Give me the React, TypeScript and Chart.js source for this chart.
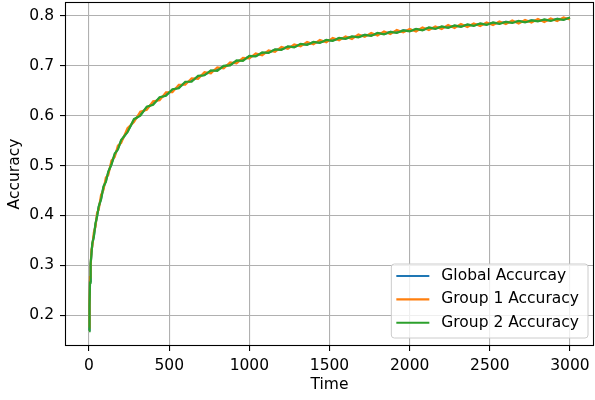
import React, { useEffect, useRef } from "react";
import { Chart, registerables } from "chart.js";

Chart.register(...registerables);

const time = [
  0, 3, 6, 10, 15, 20, 30, 40, 50, 60, 75, 90, 105, 120, 140, 160, 180, 200,
  240, 280, 320, 360, 400, 440, 480, 520, 560, 600, 640, 680, 720, 760, 800,
  840, 880, 920, 960, 1000, 1040, 1080, 1120, 1160, 1200, 1240, 1280, 1320,
  1360, 1400, 1440, 1480, 1520, 1560, 1600, 1640, 1680, 1720, 1760, 1800,
  1840, 1880, 1920, 1960, 2000, 2040, 2080, 2120, 2160, 2200, 2240, 2280,
  2320, 2360, 2400, 2440, 2480, 2520, 2560, 2600, 2640, 2680, 2720, 2760,
  2800, 2840, 2880, 2920, 2960, 3000,
];

const globalAcc = [
  0.17, 0.222, 0.268, 0.301, 0.324, 0.341, 0.359, 0.381, 0.399, 0.416, 0.434,
  0.456, 0.469, 0.486, 0.504, 0.521, 0.534, 0.549, 0.569, 0.591, 0.602, 0.616,
  0.624, 0.635, 0.642, 0.651, 0.657, 0.666, 0.67, 0.678, 0.682, 0.689, 0.692,
  0.699, 0.702, 0.709, 0.712, 0.719, 0.72, 0.725, 0.727, 0.732, 0.733, 0.738,
  0.738, 0.743, 0.743, 0.747, 0.747, 0.751, 0.751, 0.755, 0.755, 0.758, 0.758,
  0.762, 0.761, 0.765, 0.764, 0.768, 0.767, 0.771, 0.77, 0.773, 0.772, 0.776,
  0.775, 0.778, 0.777, 0.78, 0.779, 0.782, 0.781, 0.784, 0.783, 0.786, 0.785,
  0.788, 0.787, 0.789, 0.788, 0.791, 0.79, 0.792, 0.791, 0.794, 0.793, 0.796,
];

const group1Acc = [
  0.175, 0.228, 0.276, 0.296, 0.331, 0.337, 0.366, 0.377, 0.405, 0.411, 0.441,
  0.451, 0.476, 0.481, 0.51, 0.517, 0.54, 0.545, 0.575, 0.587, 0.608, 0.612,
  0.629, 0.631, 0.647, 0.647, 0.662, 0.662, 0.675, 0.674, 0.687, 0.685, 0.697,
  0.695, 0.707, 0.705, 0.716, 0.715, 0.725, 0.721, 0.731, 0.728, 0.738, 0.734,
  0.743, 0.739, 0.748, 0.743, 0.752, 0.747, 0.756, 0.751, 0.759, 0.754, 0.763,
  0.758, 0.766, 0.761, 0.769, 0.764, 0.772, 0.767, 0.774, 0.769, 0.777, 0.772,
  0.779, 0.774, 0.782, 0.776, 0.784, 0.778, 0.785, 0.78, 0.787, 0.782, 0.789,
  0.784, 0.791, 0.785, 0.792, 0.787, 0.794, 0.788, 0.795, 0.79, 0.797, 0.793,
];

const group2Acc = [
  0.168, 0.218, 0.265, 0.304, 0.322, 0.344, 0.357, 0.384, 0.397, 0.418, 0.432,
  0.458, 0.467, 0.488, 0.502, 0.524, 0.532, 0.551, 0.567, 0.593, 0.6, 0.618,
  0.622, 0.637, 0.64, 0.653, 0.655, 0.668, 0.668, 0.68, 0.681, 0.691, 0.69,
  0.7, 0.701, 0.711, 0.71, 0.72, 0.719, 0.727, 0.726, 0.733, 0.732, 0.739,
  0.737, 0.744, 0.742, 0.748, 0.746, 0.752, 0.75, 0.756, 0.754, 0.759, 0.757,
  0.762, 0.76, 0.766, 0.763, 0.768, 0.766, 0.771, 0.769, 0.774, 0.771, 0.777,
  0.774, 0.779, 0.776, 0.781, 0.778, 0.783, 0.78, 0.785, 0.782, 0.787, 0.784,
  0.788, 0.786, 0.79, 0.787, 0.791, 0.789, 0.793, 0.79, 0.794, 0.792, 0.797,
];

const seriesLabels = ["Global Accurcay", "Group 1 Accuracy", "Group 2 Accuracy"];
const seriesColors = ["#1f77b4", "#ff7f0e", "#2ca02c"];
const xTicks = [0, 500, 1000, 1500, 2000, 2500, 3000];
const yTicks = [0.2, 0.3, 0.4, 0.5, 0.6, 0.7, 0.8];
const xTitle = "Time";
const yTitle = "Accuracy";

const FONT = "'DejaVu Sans', sans-serif";
const FS = 15.5;

export default function App() {
  const ref = useRef<HTMLCanvasElement>(null);

  useEffect(() => {
    const canvas = ref.current!;
    const seriesValues = [globalAcc, group1Acc, group2Acc];

    const framePlugin = {
      id: "frame",
      afterDatasetsDraw(chart: any) {
        const { ctx, chartArea } = chart;
        const { left, top, right, bottom } = chartArea;
        ctx.save();
        ctx.strokeStyle = "#000";
        ctx.lineWidth = 1.1;
        ctx.strokeRect(left + 0.5, top + 0.5, right - left - 1, bottom - top - 1);
        ctx.restore();
      },
    };

    const legendPlugin = {
      id: "mplLegend",
      afterDraw(chart: any) {
        const { ctx, chartArea } = chart;
        ctx.save();
        ctx.font = `${FS}px ${FONT}`;
        const maxW = Math.max(...seriesLabels.map((l) => ctx.measureText(l).width));
        const w = 50 + maxW + 9;
        const h = 74;
        const x0 = chartArea.right - 6 - w;
        const y0 = chartArea.bottom - 8 - h;
        const r = 3;
        ctx.beginPath();
        ctx.moveTo(x0 + r, y0);
        ctx.lineTo(x0 + w - r, y0);
        ctx.quadraticCurveTo(x0 + w, y0, x0 + w, y0 + r);
        ctx.lineTo(x0 + w, y0 + h - r);
        ctx.quadraticCurveTo(x0 + w, y0 + h, x0 + w - r, y0 + h);
        ctx.lineTo(x0 + r, y0 + h);
        ctx.quadraticCurveTo(x0, y0 + h, x0, y0 + h - r);
        ctx.lineTo(x0, y0 + r);
        ctx.quadraticCurveTo(x0, y0, x0 + r, y0);
        ctx.closePath();
        ctx.fillStyle = "rgba(255,255,255,0.8)";
        ctx.fill();
        ctx.strokeStyle = "#cccccc";
        ctx.lineWidth = 1;
        ctx.stroke();
        seriesLabels.forEach((label, i) => {
          const cy = y0 + 12 + i * 23.4;
          ctx.strokeStyle = seriesColors[i];
          ctx.lineWidth = 2.1;
          ctx.beginPath();
          ctx.moveTo(x0 + 5, cy);
          ctx.lineTo(x0 + 38, cy);
          ctx.stroke();
          ctx.fillStyle = "#000";
          ctx.textBaseline = "middle";
          ctx.textAlign = "left";
          ctx.fillText(label, x0 + 50, cy);
        });
        ctx.restore();
      },
    };

    const chart = new Chart(canvas, {
      type: "line",
      data: {
        datasets: seriesLabels.map((label, i) => ({
          label,
          data: time.map((t, j) => ({ x: t, y: seriesValues[i][j] })),
          borderColor: seriesColors[i],
          backgroundColor: seriesColors[i],
          borderWidth: 2.2,
          pointRadius: 0,
          tension: 0,
          fill: false,
          order: seriesLabels.length - 1 - i,
        })),
      },
      options: {
        responsive: false,
        animation: false,
        events: [],
        layout: { padding: { top: 2, right: 1, left: 0, bottom: 0 } },
        plugins: {
          legend: { display: false },
          tooltip: { enabled: false },
        },
        scales: {
          x: {
            type: "linear",
            min: -150,
            max: 3150,
            afterBuildTicks: (s: any) => {
              s.ticks = xTicks.map((v) => ({ value: v }));
            },
            afterFit: (s: any) => {
              s.height = 54;
              s.paddingLeft = 0;
              s.paddingRight = 0;
            },
            ticks: {
              color: "#000",
              font: { family: FONT, size: FS },
              padding: 6,
              maxRotation: 0,
              autoSkip: false,
              callback: (v: any) => String(v),
            },
            grid: {
              color: "#b0b0b0",
              lineWidth: 1.1,
              tickColor: "#000",
              tickLength: 5,
              drawTicks: true,
            },
            border: { display: false },
            title: {
              display: true,
              text: xTitle,
              color: "#000",
              font: { family: FONT, size: FS },
              padding: { top: 0, bottom: 6 },
            },
          },
          y: {
            type: "linear",
            min: 0.138,
            max: 0.828,
            afterBuildTicks: (s: any) => {
              s.ticks = yTicks.map((v) => ({ value: v }));
            },
            afterFit: (s: any) => {
              s.width = 65;
              s.paddingTop = 0;
              s.paddingBottom = 0;
            },
            ticks: {
              color: "#000",
              font: { family: FONT, size: FS },
              padding: 6,
              autoSkip: false,
              callback: (v: any) => Number(v).toFixed(1),
            },
            grid: {
              color: "#b0b0b0",
              lineWidth: 1.1,
              tickColor: "#000",
              tickLength: 5,
              drawTicks: true,
            },
            border: { display: false },
            title: {
              display: true,
              text: yTitle,
              color: "#000",
              font: { family: FONT, size: FS },
              padding: { top: 6, bottom: 0 },
            },
          },
        },
      },
      plugins: [framePlugin, legendPlugin],
    } as any);

    return () => chart.destroy();
  }, []);

  return (
    <div style={{ position: "absolute", left: 0, top: 0, width: 595, height: 400, background: "#fff" }}>
      <canvas ref={ref} width={595} height={400} style={{ display: "block" }} />
    </div>
  );
}
